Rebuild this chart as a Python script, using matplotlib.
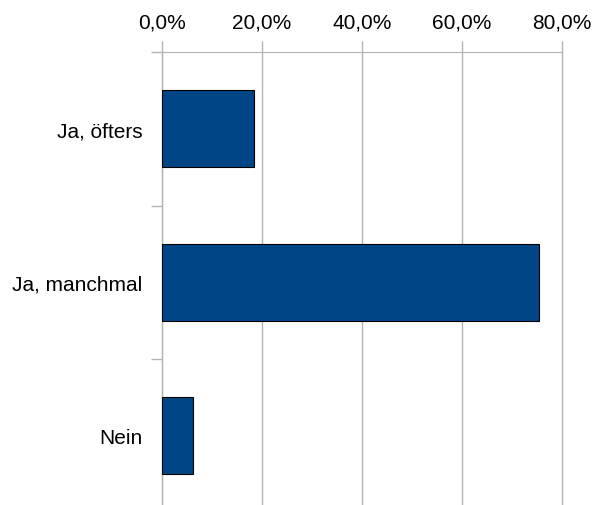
import matplotlib.pyplot as plt
from matplotlib.ticker import FuncFormatter, FixedLocator

categories = ['Ja, öfters', 'Ja, manchmal', 'Nein']
values = [18.5, 75.5, 6.2]
xticks = [0, 20, 40, 60, 80]

plt.rcParams['font.family'] = ['Liberation Sans', 'DejaVu Sans']

fig = plt.figure(figsize=(5.93, 5.06), dpi=100)
ax = fig.add_axes([161.7 / 593, -0.0148, 400 / 593, 0.910])

pos = list(range(len(categories)))
ax.barh(pos, values, height=0.5, color='#004586', edgecolor='black', linewidth=0.8, zorder=3)

ax.set_xlim(0, 80)
ax.set_ylim(len(categories) - 0.5, -0.5)
ax.set_xticks(xticks)
ax.xaxis.set_major_formatter(FuncFormatter(lambda v, p: f'{v:.1f}%'.replace('.', ',')))
ax.xaxis.tick_top()
ax.grid(axis='x', color='#b3b3b3', linewidth=1, zorder=0)
for gl in ax.get_xgridlines():
    gl.set_clip_on(False)

ax.set_yticks(pos)
ax.set_yticklabels(categories)
ax.yaxis.set_minor_locator(FixedLocator([-0.5, 0.5, 1.5, 2.5]))
ax.tick_params(axis='y', which='major', length=0, pad=14, labelsize=15)
ax.tick_params(axis='y', which='minor', length=8, color='#b3b3b3', width=1)
ax.tick_params(axis='x', length=8, color='#b3b3b3', width=1, labelsize=15, pad=7)

for s in ['right', 'bottom']:
    ax.spines[s].set_visible(False)
ax.spines['left'].set_color('#b3b3b3')
ax.spines['top'].set_color('#b3b3b3')

fig.savefig('out.png', dpi=100)
